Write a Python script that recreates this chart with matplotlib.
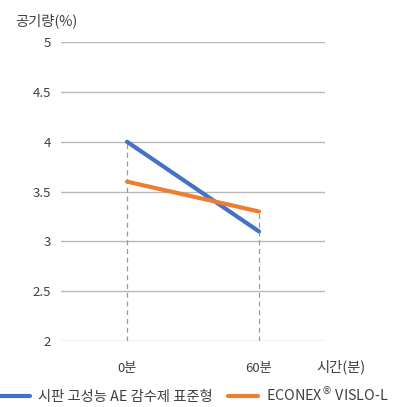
import matplotlib.pyplot as plt

plt.rcParams['font.family'] = ['Noto Sans CJK KR', 'DejaVu Sans']

times = ['0분', '60분']
commercial = [4.0, 3.1]
econex = [3.6, 3.3]
series_names = ['시판 고성능 AE 감수제 표준형', 'ECONEX$^{®}$ VISLO-L']
y_ticks = [2, 2.5, 3, 3.5, 4, 4.5, 5]
y_tick_labels = ['2', '2.5', '3', '3.5', '4', '4.5', '5']

text_color = '#404040'
grid_color = '#b8b8b8'

fig = plt.figure(figsize=(4.0, 4.07), dpi=100)
ax = fig.add_axes([0.1525, 0.162, 0.66, 0.7346])

x = list(range(len(times)))

# grid lines
for t in y_ticks:
    ax.axhline(t, color=grid_color, lw=1.0, zorder=1)

# drop lines from the higher point down to the axis floor
tops = [max(a, b) for a, b in zip(commercial, econex)]
ax.vlines(x, 2, tops, colors='#999999', linestyles=(0, (4, 3)), lw=0.9, zorder=1)

ax.plot(x, commercial, color='#4472C4', lw=3.0, solid_capstyle='round',
        label=series_names[0], zorder=3)
ax.plot(x, econex, color='#ED7D31', lw=3.0, solid_capstyle='round',
        label=series_names[1], zorder=3)

ax.set_xlim(-0.5, 1.5)
ax.set_ylim(2, 5)
ax.set_yticks(y_ticks)
ax.set_yticklabels(y_tick_labels)
ax.set_xticks(x)
ax.set_xticklabels(times)
ax.tick_params(length=0, labelsize=9.5, colors=text_color)
ax.tick_params(axis='y', pad=7)
ax.tick_params(axis='x', pad=15)
for s in ax.spines.values():
    s.set_visible(False)

fig.text(0.038, 0.948, '공기량(%)', fontsize=10.3, color=text_color, va='center')
fig.text(0.792, 0.098, '시간(분)', fontsize=10.3, color=text_color, va='center')

fig.legend(loc='center left', bbox_to_anchor=(0.0, 0.03), ncol=2, frameon=False,
           fontsize=10.3, labelcolor=text_color, handlelength=2.1,
           columnspacing=1.1, handletextpad=0.55, borderaxespad=0, borderpad=0)

fig.savefig('out.png', dpi=100, facecolor='white')
